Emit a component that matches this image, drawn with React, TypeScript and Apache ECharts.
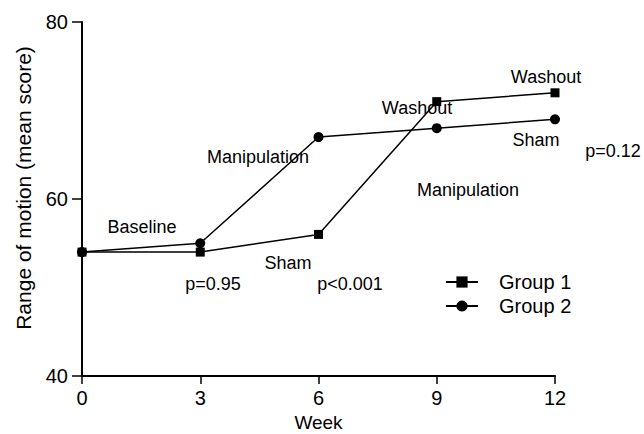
import React, { useEffect, useRef } from "react";
import * as echarts from "echarts";

const weeks = [0, 3, 6, 9, 12];
const group1 = [54, 54, 56, 71, 72];
const group2 = [54, 55, 67, 68, 69];
const xTicks = [0, 3, 6, 9, 12];
const yTicks = [40, 60, 80];

const annotations = [
  { text: "Baseline", x: 142, y: 227 },
  { text: "Manipulation", x: 258, y: 157 },
  { text: "Sham", x: 288, y: 263 },
  { text: "p=0.95", x: 213, y: 284 },
  { text: "p<0.001", x: 350, y: 284 },
  { text: "Washout", x: 417, y: 108 },
  { text: "Washout", x: 546, y: 77 },
  { text: "Sham", x: 536, y: 140 },
  { text: "p=0.12", x: 613, y: 151 },
  { text: "Manipulation", x: 468, y: 190 },
];

const FONT = "Liberation Sans, Arial, Helvetica, sans-serif";

export default function App() {
  const ref = useRef<HTMLDivElement>(null);
  useEffect(() => {
    if (!ref.current) return;
    const chart = echarts.init(ref.current, undefined, { renderer: "svg" });
    chart.setOption({
      animation: false,
      backgroundColor: "#ffffff",
      grid: {
        left: 82,
        right: 89,
        top: 22,
        bottom: 58,
        containLabel: false,
        outerBoundsMode: "none",
      },
      xAxis: {
        type: "value",
        min: xTicks[0],
        max: xTicks[xTicks.length - 1],
        interval: 3,
        name: "Week",
        nameLocation: "middle",
        nameGap: 36,
        nameTextStyle: { fontSize: 19, color: "#000", fontFamily: FONT },
        axisLine: { lineStyle: { color: "#000", width: 2 } },
        axisTick: { length: 8, lineStyle: { color: "#000", width: 1.5 } },
        axisLabel: { fontSize: 20, color: "#000", fontFamily: FONT, margin: 12 },
        splitLine: { show: false },
      },
      yAxis: {
        type: "value",
        min: yTicks[0],
        max: yTicks[yTicks.length - 1],
        interval: 20,
        axisLine: { show: true, lineStyle: { color: "#000", width: 2 } },
        axisTick: { show: true, length: 10, lineStyle: { color: "#000", width: 1.5 } },
        axisLabel: { fontSize: 20, color: "#000", fontFamily: FONT, margin: 14 },
        splitLine: { show: false },
      },
      legend: {
        orient: "vertical",
        left: 445,
        top: 272,
        padding: 0,
        itemWidth: 32,
        itemHeight: 14,
        itemGap: 4,
        textStyle: {
          fontSize: 20,
          lineHeight: 20,
          color: "#000",
          fontFamily: FONT,
          padding: [0, 0, 0, 16],
        },
        data: ["Group 1", "Group 2"],
      },
      series: [
        {
          name: "Group 1",
          type: "line",
          data: weeks.map((w, i) => [w, group1[i]]),
          symbol: "rect",
          symbolSize: 9,
          itemStyle: { color: "#000" },
          lineStyle: { color: "#000", width: 1.5 },
        },
        {
          name: "Group 2",
          type: "line",
          data: weeks.map((w, i) => [w, group2[i]]),
          symbol: "circle",
          symbolSize: 10,
          itemStyle: { color: "#000" },
          lineStyle: { color: "#000", width: 1.5 },
        },
      ],
      graphic: [
        {
          type: "text",
          x: 23,
          y: 188,
          rotation: Math.PI / 2,
          style: {
            text: "Range of motion (mean score)",
            fill: "#000",
            font: `21px ${FONT}`,
            textAlign: "center",
            textVerticalAlign: "middle",
          },
        },
        ...annotations.map((a) => ({
          type: "text",
          x: a.x,
          y: a.y,
          style: {
            text: a.text,
            fill: "#000",
            font: `18px ${FONT}`,
            textAlign: "center",
            textVerticalAlign: "middle",
          },
        })),
      ],
    });
    return () => chart.dispose();
  }, []);
  return (
    <div
      ref={ref}
      style={{ position: "absolute", left: 0, top: 0, width: 644, height: 434 }}
    />
  );
}
